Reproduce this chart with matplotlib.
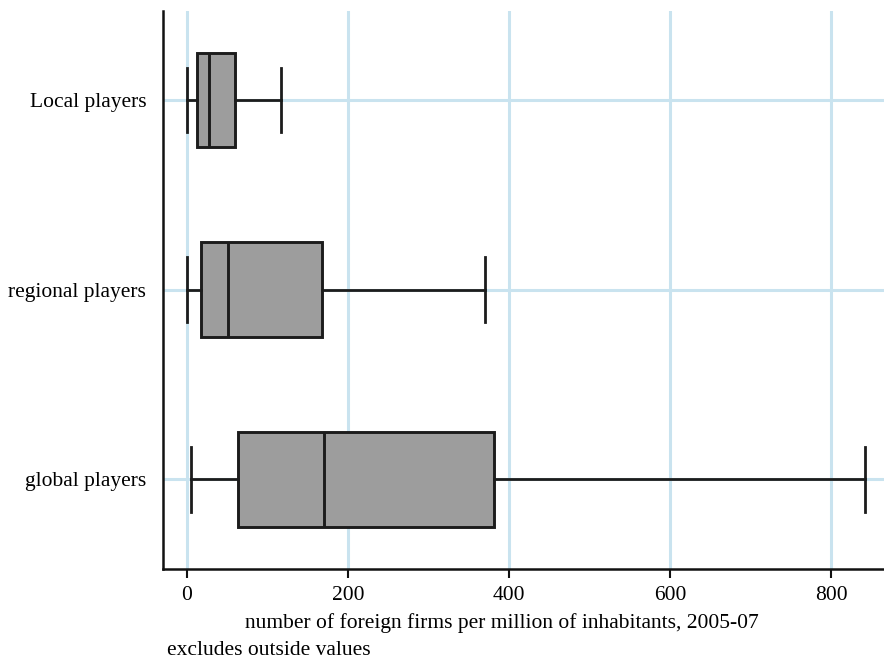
import matplotlib
matplotlib.use("Agg")
import matplotlib.pyplot as plt

categories = ["Local players", "regional players", "global players"]
whisker_low = [0, 0, 5]
q1 = [12.9, 18.2, 63.2]
median = [28.4, 51.8, 171.1]
q3 = [59.6, 168.0, 381.8]
whisker_high = [117.5, 370.8, 842.0]
x_ticks = [0, 200, 400, 600, 800]

plt.rcParams['font.family'] = ['Liberation Serif', 'DejaVu Serif']

fig = plt.figure(figsize=(8.84, 6.59), dpi=100)
ax = fig.add_axes([163/884, 1 - 569/659, 1 - 163/884, (569 - 11)/659])

stats = []
for i, c in enumerate(categories):
    stats.append(dict(label=c, whislo=whisker_low[i], q1=q1[i], med=median[i],
                      q3=q3[i], whishi=whisker_high[i], fliers=[]))

positions = list(range(1, len(categories) + 1))
edge = '#1c1c1c'
ax.bxp(stats, positions=positions, vert=False, widths=0.5, capwidths=0.34,
       patch_artist=True, showfliers=False,
       boxprops=dict(facecolor='#9d9d9d', edgecolor=edge, linewidth=2.1),
       medianprops=dict(color=edge, linewidth=2.1),
       whiskerprops=dict(color=edge, linewidth=2.0),
       capprops=dict(color=edge, linewidth=2.0), zorder=3)

ax.set_xlim(-29.3, 865.4)
ax.set_ylim(3.472, 0.531)
ax.set_xticks(x_ticks)
ax.set_yticks(positions)
ax.set_yticklabels(categories)

grid_c = '#c9e3ef'
ax.grid(True, color=grid_c, linewidth=2.2, zorder=0)
ax.set_axisbelow(True)

for s in ['top', 'right']:
    ax.spines[s].set_visible(False)
for s in ['left', 'bottom']:
    ax.spines[s].set_color('#111111')
    ax.spines[s].set_linewidth(1.8)

fs = 15.5
ax.tick_params(axis='x', length=6.5, width=1.5, color='#111111', labelsize=fs, pad=6)
ax.tick_params(axis='y', length=0, labelsize=fs, pad=12)
ax.set_xlabel("number of foreign firms per million of inhabitants, 2005-07", fontsize=fs)
ax.xaxis.set_label_coords((501.5 - 163) / 721, 1 - (628 - 11) / 558)
ax.xaxis.label.set_va('baseline')

fig.text(167/884, 1 - 655/659, "excludes outside values", fontsize=fs, ha='left', va='baseline')

fig.savefig("out.png", dpi=100)
